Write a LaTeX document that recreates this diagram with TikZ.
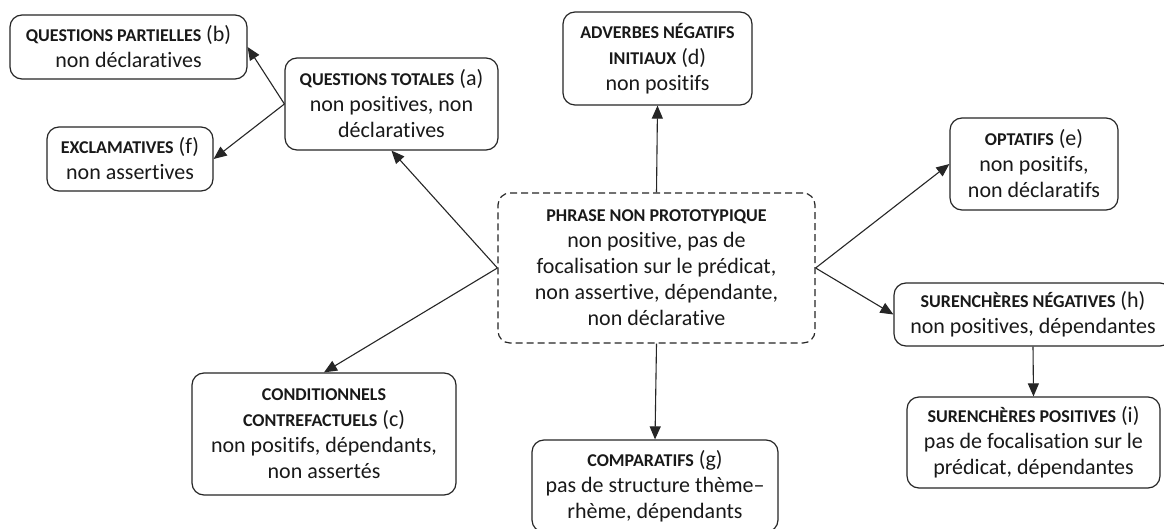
\documentclass[tikz,border=0pt]{standalone}
\usepackage{fontspec}
\setmainfont[Ligatures=NoCommon]{Carlito}
\usetikzlibrary{arrows.meta}
\newcommand{\mycaps}[1]{{\fontsize{18}{26}\selectfont\bfseries #1}}
\begin{document}
\begin{tikzpicture}[x=1pt,y=-1pt,
  box/.style={draw=black!85, line width=1.2pt, rounded corners=12pt, align=center,
    inner sep=0pt, font=\fontsize{22}{26}\selectfont, text=black!90},
  arr/.style={-{Triangle[length=13pt,width=11pt]}, line width=1.1pt, draw=black!85}]
\useasboundingbox (0,0) rectangle (1164,529);
\fill[white] (0,0) rectangle (1164,529);

\node[box, minimum width=237pt, minimum height=64pt] (b) at (128.5,47)
  {\mycaps{QUESTIONS PARTIELLES} (b)\\non déclaratives};
\node[box, minimum width=166pt, minimum height=64pt] (f) at (130,159)
  {\mycaps{EXCLAMATIVES} (f)\\non assertives};
\node[box, minimum width=213pt, minimum height=92pt] (a) at (391.5,104)
  {\mycaps{QUESTIONS TOTALES} (a)\\non positives, non\\déclaratives};
\node[box, minimum width=189pt, minimum height=93pt] (d) at (657.5,58.5)
  {\mycaps{ADVERBES NÉGATIFS}\\\mycaps{INITIAUX} (d)\\non positifs};
\node[box, dash pattern=on 7pt off 4pt, minimum width=317pt, minimum height=150pt] (ctr) at (656.5,268)
  {\mycaps{PHRASE NON PROTOTYPIQUE}\\non positive, pas de\\focalisation sur le prédicat,\\non assertive, dépendante,\\non déclarative};
\node[box, minimum width=168pt, minimum height=92pt] (e) at (1034,164)
  {\mycaps{OPTATIFS} (e)\\non positifs,\\non déclaratifs};
\node[box, minimum width=278pt, minimum height=63pt] (h) at (1033,314.5)
  {\mycaps{SURENCHÈRES NÉGATIVES} (h)\\non positives, dépendantes};
\node[box, minimum width=253pt, minimum height=91pt] (i) at (1033.5,442.5)
  {\mycaps{SURENCHÈRES POSITIVES} (i)\\pas de focalisation sur le\\prédicat, dépendantes};
\node[box, minimum width=264pt, minimum height=122pt] (c) at (324,434)
  {\mycaps{CONDITIONNELS}\\\mycaps{CONTREFACTUELS} (c)\\non positifs, dépendants,\\non assertés};
\node[box, minimum width=246pt, minimum height=92pt] (g) at (655,486)
  {\mycaps{COMPARATIFS} (g)\\pas de structure thème–\\rhème, dépendants};

\draw[arr] (ctr.west) -- (a.south);
\draw[arr] (ctr.west) -- (c.north);
\draw[arr] (a.west) -- (b.east);
\draw[arr] (a.west) -- (f.east);
\draw[arr] (ctr.north) -- (d.south);
\draw[arr] (ctr.south) -- (g.north);
\draw[arr] (ctr.east) -- (e.west);
\draw[arr] (ctr.east) -- (h.west);
\draw[arr] (h.south) -- (i.north);
\end{tikzpicture}
\end{document}
